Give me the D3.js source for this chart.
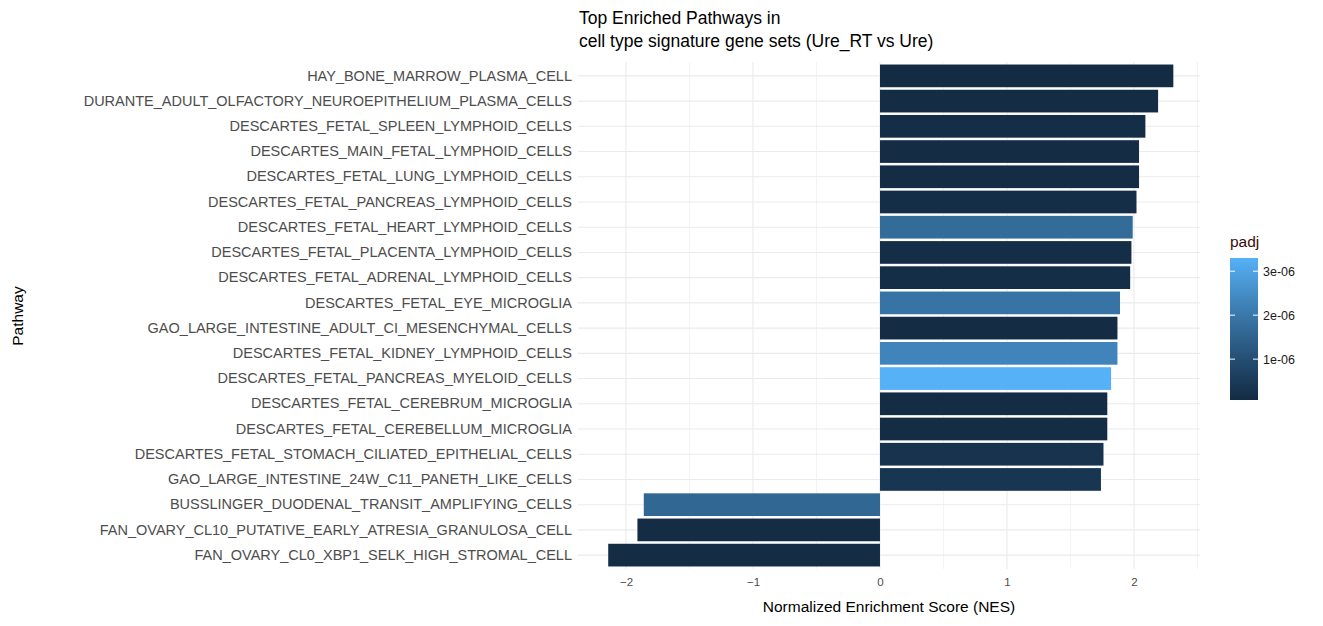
<!DOCTYPE html>
<html><head><meta charset="utf-8">
<script src="https://cdn.jsdelivr.net/npm/d3@7"></script>
<style>body{margin:0;background:#fff;font-family:Arial,"Liberation Sans",sans-serif}</style>
</head><body><div id="chart"></div>
<script>
// top to bottom
const pathways = [
  "HAY_BONE_MARROW_PLASMA_CELL",
  "DURANTE_ADULT_OLFACTORY_NEUROEPITHELIUM_PLASMA_CELLS",
  "DESCARTES_FETAL_SPLEEN_LYMPHOID_CELLS",
  "DESCARTES_MAIN_FETAL_LYMPHOID_CELLS",
  "DESCARTES_FETAL_LUNG_LYMPHOID_CELLS",
  "DESCARTES_FETAL_PANCREAS_LYMPHOID_CELLS",
  "DESCARTES_FETAL_HEART_LYMPHOID_CELLS",
  "DESCARTES_FETAL_PLACENTA_LYMPHOID_CELLS",
  "DESCARTES_FETAL_ADRENAL_LYMPHOID_CELLS",
  "DESCARTES_FETAL_EYE_MICROGLIA",
  "GAO_LARGE_INTESTINE_ADULT_CI_MESENCHYMAL_CELLS",
  "DESCARTES_FETAL_KIDNEY_LYMPHOID_CELLS",
  "DESCARTES_FETAL_PANCREAS_MYELOID_CELLS",
  "DESCARTES_FETAL_CEREBRUM_MICROGLIA",
  "DESCARTES_FETAL_CEREBELLUM_MICROGLIA",
  "DESCARTES_FETAL_STOMACH_CILIATED_EPITHELIAL_CELLS",
  "GAO_LARGE_INTESTINE_24W_C11_PANETH_LIKE_CELLS",
  "BUSSLINGER_DUODENAL_TRANSIT_AMPLIFYING_CELLS",
  "FAN_OVARY_CL10_PUTATIVE_EARLY_ATRESIA_GRANULOSA_CELL",
  "FAN_OVARY_CL0_XBP1_SELK_HIGH_STROMAL_CELL"
];
const nes = [2.31,2.19,2.09,2.04,2.04,2.02,1.99,1.98,1.97,1.89,1.87,1.87,1.82,1.79,1.79,1.76,1.74,-1.86,-1.91,-2.14];
const padj = [0.07e-6,0.1e-6,0.15e-6,0.12e-6,0.12e-6,0.15e-6,1.7e-6,0.15e-6,0.15e-6,1.9e-6,0.12e-6,2.3e-6,3.3e-6,0.12e-6,0.12e-6,0.3e-6,0.35e-6,1.6e-6,0.1e-6,0.1e-6];
const xTicks = [-2,-1,0,1,2];
const legendTicks = [1e-6,2e-6,3e-6];
const legendLabels = ["1e-06","2e-06","3e-06"];

const W = 1323, H = 626;
const m = {left:578, right:1200, top:62, bottom:569};
const svg = d3.select("#chart").append("svg").attr("width",W).attr("height",H);

const x = d3.scaleLinear().domain([-2.378,2.52]).range([m.left,m.right]);
const y = d3.scaleBand().domain(pathways).range([m.top,m.bottom]).padding(0.1);
const pMin = 0.07e-6, pMax = 3.3e-6;
const color = d3.scaleLinear().domain([pMin,pMax]).range(["#132B43","#56B1F7"]).interpolate(d3.interpolateLab);

// grid
const minor = [-1.5,-0.5,0.5,1.5,2.5].filter(v=>x(v)<=m.right);
svg.append("g").selectAll("line").data(minor).join("line")
  .attr("x1",d=>x(d)).attr("x2",d=>x(d)).attr("y1",m.top).attr("y2",m.bottom)
  .attr("stroke","#ebebeb").attr("stroke-width",0.6);
svg.append("g").selectAll("line").data(xTicks).join("line")
  .attr("x1",d=>x(d)).attr("x2",d=>x(d)).attr("y1",m.top).attr("y2",m.bottom)
  .attr("stroke","#ebebeb").attr("stroke-width",1.1);
svg.append("g").selectAll("line").data(pathways).join("line")
  .attr("x1",m.left).attr("x2",m.right)
  .attr("y1",d=>y(d)+y.bandwidth()/2).attr("y2",d=>y(d)+y.bandwidth()/2)
  .attr("stroke","#ebebeb").attr("stroke-width",1.1);

// bars
svg.append("g").selectAll("rect").data(pathways).join("rect")
  .attr("x",(d,i)=>x(Math.min(0,nes[i])))
  .attr("width",(d,i)=>Math.abs(x(nes[i])-x(0)))
  .attr("y",d=>y(d)).attr("height",y.bandwidth())
  .attr("fill",(d,i)=>color(padj[i]));

// axes
const gx = svg.append("g").attr("transform",`translate(0,${m.bottom})`)
  .call(d3.axisBottom(x).tickValues(xTicks).tickSize(0).tickPadding(9).tickFormat(d3.format("d")));
gx.select(".domain").remove();
gx.selectAll("text").attr("font-size",11.5).attr("fill","#4d4d4d").style("font-family","Arial, Liberation Sans");
const gy = svg.append("g").attr("transform",`translate(${m.left},0)`)
  .call(d3.axisLeft(y).tickSize(0).tickPadding(6));
gy.select(".domain").remove();
gy.selectAll("text").attr("font-size",14.5).attr("fill","#4d4d4d").style("font-family","Arial, Liberation Sans");

// titles
svg.append("text").attr("x",579).attr("y",24).attr("font-size",17.5).text("Top Enriched Pathways in");
svg.append("text").attr("x",579).attr("y",47).attr("font-size",17.5).text("cell type signature gene sets (Ure_RT vs Ure)");
svg.append("text").attr("x",(m.left+m.right)/2).attr("y",612).attr("text-anchor","middle").attr("font-size",15.5).text("Normalized Enrichment Score (NES)");
svg.append("text").attr("transform","translate(23,316) rotate(-90)").attr("text-anchor","middle").attr("font-size",15.5).text("Pathway");

// legend
const lx = 1230, ly0 = 258, ly1 = 400, lw = 28;
const defs = svg.append("defs");
const grad = defs.append("linearGradient").attr("id","g").attr("x1",0).attr("x2",0).attr("y1",1).attr("y2",0);
d3.range(0,1.0001,0.1).forEach(t=>grad.append("stop").attr("offset",t).attr("stop-color",color(pMin+t*(pMax-pMin))));
svg.append("rect").attr("x",lx).attr("y",ly0).attr("width",lw).attr("height",ly1-ly0).attr("fill","url(#g)");
const ly = d3.scaleLinear().domain([pMin,pMax]).range([ly1,ly0]);
legendTicks.forEach((v,i)=>{
  svg.append("line").attr("x1",lx).attr("x2",lx+5).attr("y1",ly(v)).attr("y2",ly(v)).attr("stroke","#fff");
  svg.append("line").attr("x1",lx+lw-5).attr("x2",lx+lw).attr("y1",ly(v)).attr("y2",ly(v)).attr("stroke","#fff");
  svg.append("text").attr("x",lx+lw+5).attr("y",ly(v)+4.5).attr("font-size",12.5).attr("fill","#1a1a1a").text(legendLabels[i]);
});
svg.append("text").attr("x",lx).attr("y",247).attr("font-size",15.5).attr("fill","#3b0a0a").text("padj");
</script></body></html>
